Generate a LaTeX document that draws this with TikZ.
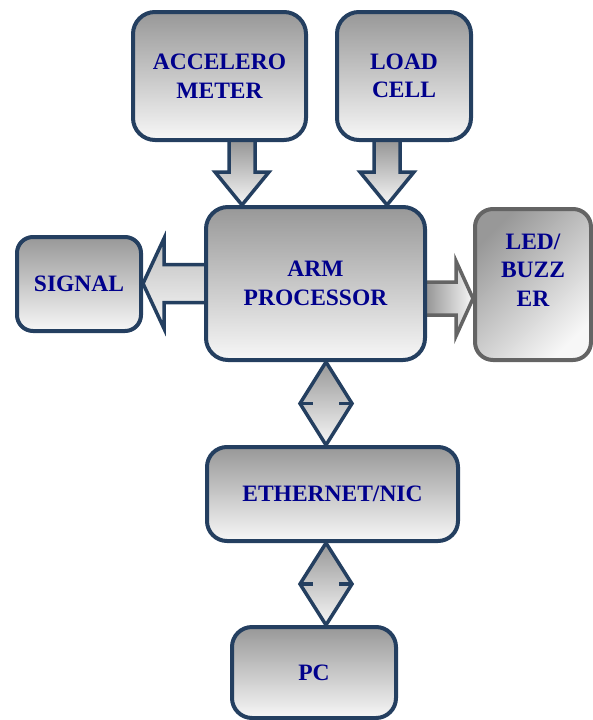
\documentclass[tikz,border=0pt]{standalone}
\usepackage{fontspec}
\setmainfont{Liberation Serif}
\usetikzlibrary{positioning,calc}
\definecolor{edge}{RGB}{36,63,96}
\definecolor{ledge}{RGB}{100,100,100}
\definecolor{navytext}{RGB}{0,0,140}
\definecolor{shadetop}{RGB}{152,152,152}
\definecolor{shadebot}{RGB}{247,247,247}
\pgfdeclarelayer{back}
\pgfsetlayers{back,main}

\begin{document}
\begin{tikzpicture}[x=1pt, y=-1pt,
  every block/.style={draw=edge, line width=4pt, rounded corners=22pt,
    top color=shadetop, bottom color=shadebot, text=navytext, align=center,
    inner sep=0pt, font=\bfseries\fontsize{23.5}{28.5}\selectfont},
  fat arrow/.style={draw=edge, line width=3.5pt, top color=shadetop, bottom color=shadebot}]

\useasboundingbox (0,0) rectangle (593,720);

% blocks
\node [every block, minimum width=173pt, minimum height=128pt] (acc) at (219.5,76) {ACCELERO\\METER};
\node [every block, minimum width=134pt, minimum height=128pt] (load) at (404,76) {LOAD\\CELL};
\node [every block, minimum width=219pt, minimum height=153pt] (arm) at (315.5,283.5) {ARM\\PROCESSOR};
\node [every block, minimum width=124pt, minimum height=94pt, rounded corners=16pt] (sig) at (79,284) {SIGNAL};
\node [every block, draw=ledge, shading angle=45, minimum width=116pt, minimum height=151pt, rounded corners=18pt] (led) at (533,284.5) {LED/\\BUZZ\\ER\\\mbox{}};
\node [every block, minimum width=251pt, minimum height=94pt, rounded corners=20pt] (eth) at (332.5,494) {ETHERNET/NIC};
\node [every block, minimum width=164pt, minimum height=91pt, rounded corners=20pt] (pc) at (314,672.5) {PC};

\coordinate (acc-out) at ($(acc.south)+(22.5,0)$);
\coordinate (load-out) at ($(load.south)+(-17,0)$);
\coordinate (sig-in) at (arm.west -| sig.east);
\coordinate (led-out) at ($(arm.east)+(0,15)$);
\coordinate (led-in) at (led-out -| led.west);
\coordinate (bus) at ($(arm.south)+(10.5,0)$);

\begin{pgfonlayer}{back}
% sensors into the processor
\foreach \s in {acc,load} {
  \coordinate (\s-in) at (\s-out |- arm.north);
  \draw [fat arrow] ($(\s-out)+(-13,0)$) -- ($(\s-in)+(-13,-33)$) -- ++(-14,0)
    -- (\s-in) -- ++(27,-33) -- ++(-14,0) -- ($(\s-out)+(13,0)$);
}

% outputs
\draw [fat arrow, top color=shadetop!60!shadebot] ($(arm.west)+(0,-19)$) -- ($(sig-in)+(21,-19)$) -- ++(0,-26)
  -- (sig-in) -- ++(21,45) -- ++(0,-26) -- ($(arm.west)+(0,19)$);
\draw [fat arrow, draw=ledge, left color=shadetop, right color=shadebot] ($(led-out)+(0,-16.5)$) -- ($(led-in)+(-17,-16.5)$) -- ++(0,-21)
  -- (led-in) -- ++(-17,37.5) -- ++(0,-21) -- ($(led-out)+(0,16.5)$);

% two way links
\foreach \a/\b in {arm/eth, eth/pc} {
  \coordinate (\a-bot) at (bus |- \a.south);
  \coordinate (\b-top) at (bus |- \b.north);
  \coordinate (\a-mid) at ($(\a-bot)!.5!(\b-top)$);
  \draw [fat arrow] (\a-bot) -- ($(\a-mid)+(26,0)$) -- (\b-top) -- ($(\a-mid)+(-26,0)$) -- cycle;
  \draw [edge, line width=3.5pt] ($(\a-mid)+(-26,0)$) -- ++(13,0)
    ($(\a-mid)+(26,0)$) -- ++(-13,0);
}
\end{pgfonlayer}

\end{tikzpicture}
\end{document}
